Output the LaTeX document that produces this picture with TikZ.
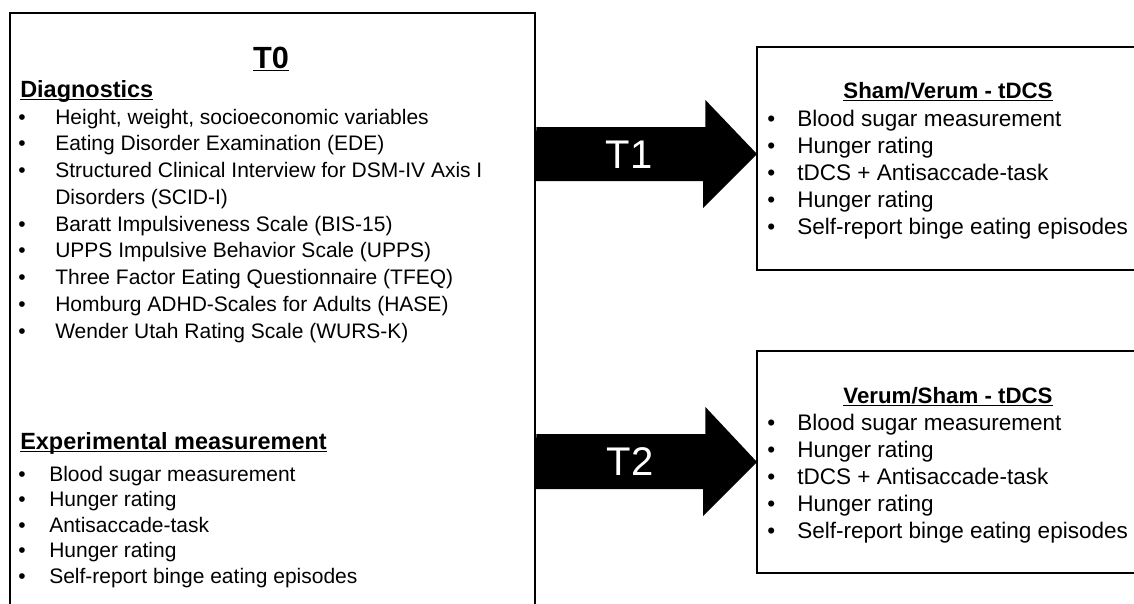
\documentclass[tikz,border=0pt]{standalone}
\usepackage{fontspec}
\setmainfont{Liberation Sans}
\usetikzlibrary{fit}
\newcommand\hdul[1]{\setbox0=\hbox{#1}\rlap{\rule[-2.4pt]{\wd0}{1.2pt}}\box0}
\tikzset{
  frame/.style={draw=black, line width=2.1pt, inner sep=0pt},
  blockarrow/.style={fill=black},
  steplabel/.style={text=white, font=\fontsize{30}{34}\selectfont, inner sep=0pt},
  bigtitle/.style={anchor=base, font=\bfseries\fontsize{23}{26}\selectfont, inner sep=0pt},
  sechead/.style={anchor=base west, font=\bfseries\fontsize{17.6}{20}\selectfont, inner sep=0pt},
  boxhead/.style={anchor=base, font=\bfseries\fontsize{16.7}{20}\selectfont, inner sep=0pt},
  leftitem/.style={anchor=base west, font=\fontsize{15.75}{18}\selectfont, inner sep=0pt},
  rightitem/.style={anchor=base west, font=\fontsize{16.9}{19}\selectfont, inner sep=0pt},
}
\begin{document}
\begin{tikzpicture}[x=0.75pt, y=-0.75pt]
\useasboundingbox (0,0) rectangle (1134,603);
% boxes
\node[frame, fit={(10,13) (535,650)}] (t0box) {};
\node[frame, fit={(757,47) (1150,270)}] (s1box) {};
\node[frame, fit={(757,351) (1150,573)}] (s2box) {};
% arrow tips
\coordinate (tip1) at (757,154);
\coordinate (tip2) at (757,462);
\coordinate (sh1) at (0,127);
\coordinate (sh2) at (0,434);
% arrows
\fill[blockarrow] (t0box.east |- sh1) -- ++(169,0) -- ++(0,-27) -- (tip1) -- ++(-54,54) -- ++(0,-27) -- ++(-169,0) -- cycle;
\fill[blockarrow] (t0box.east |- sh2) -- ++(169,0) -- ++(0,-27) -- (tip2) -- ++(-54,54) -- ++(0,-27) -- ++(-169,0) -- cycle;
\node[steplabel] (lt1) at (629,155) {T1};
\node[steplabel] (lt2) at (630,462) {T2};
% left box
\node[bigtitle] (t0) at (271,68) {\hdul{T0}};
\node[sechead] (diag) at (20,97) {\hdul{Diagnostics}};
\foreach \t [count=\i] in {{Height, weight, socioeconomic variables},
  {Eating Disorder Examination (EDE)},
  {Structured Clinical Interview for DSM-IV Axis I},
  {Disorders (SCID-I)},
  {Baratt Impulsiveness Scale (BIS-15)},
  {UPPS Impulsive Behavior Scale (UPPS)},
  {Three Factor Eating Questionnaire (TFEQ)},
  {Homburg ADHD-Scales for Adults (HASE)},
  {Wender Utah Rating Scale (WURS-K)}} {
  \node[leftitem] (d\i) at (55,{124+26.75*(\i-1)}) {\t};
}
\foreach \i in {1,2,3,5,6,7,8,9} {
  \node[leftitem] (db\i) at (18,{124+26.75*(\i-1)}) {•};
}
\node[sechead] (expm) at (20,449) {\hdul{Experimental measurement}};
\foreach \t [count=\i] in {Blood sugar measurement, Hunger rating, Antisaccade-task, Hunger rating, Self-report binge eating episodes} {
  \node[leftitem] (e\i) at (49,{481+25.5*(\i-1)}) {\t};
  \node[leftitem] (eb\i) at (18,{481+25.5*(\i-1)}) {•};
}
% right boxes
\node[boxhead] (h1) at (948,98) {\hdul{Sham/Verum - tDCS}};
\node[boxhead] (h2) at (948,403) {\hdul{Verum/Sham - tDCS}};
\foreach \t [count=\i] in {Blood sugar measurement, Hunger rating, tDCS + Antisaccade-task, Hunger rating, Self-report binge eating episodes} {
  \node[rightitem] (a\i) at (797,{126+27*(\i-1)}) {\t};
  \node[rightitem] (ab\i) at (767,{126+27*(\i-1)}) {•};
  \node[rightitem] (b\i) at (797,{430+27*(\i-1)}) {\t};
  \node[rightitem] (bb\i) at (767,{430+27*(\i-1)}) {•};
}
\end{tikzpicture}
\end{document}
